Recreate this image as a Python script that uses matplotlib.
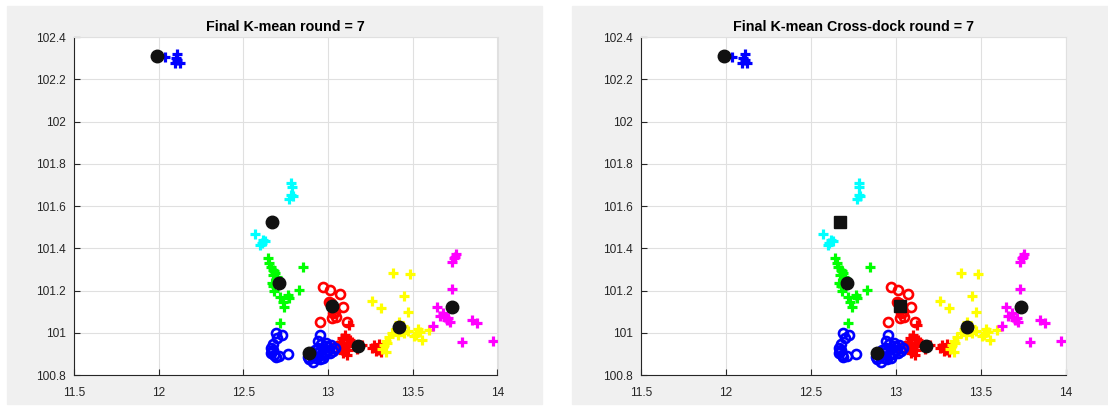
import matplotlib.pyplot as plt
from matplotlib.patches import Rectangle
from matplotlib.ticker import FuncFormatter

plt.rcParams['font.family'] = ['Liberation Sans', 'DejaVu Sans']

# points of every cluster (x, y) and how they are drawn
top_x = [12.00, 12.037, 12.11, 12.11, 12.126, 12.096, 12.10]
top_y = [102.31, 102.306, 102.32, 102.29, 102.277, 102.277, 102.30]

cyan_x = [12.781, 12.785, 12.781, 12.771, 12.791, 12.568, 12.618, 12.598, 12.628, 12.608]
cyan_y = [101.711, 101.692, 101.653, 101.633, 101.648, 101.468, 101.44, 101.416, 101.432, 101.424]

green_x = [12.643, 12.653, 12.677, 12.687, 12.673, 12.696, 12.667, 12.677, 12.85, 12.828,
           12.716, 12.765, 12.732, 12.740, 12.771, 12.716, 12.68, 12.66, 12.69, 12.70, 12.68]
green_y = [101.353, 101.332, 101.298, 101.282, 101.274, 101.266, 101.235, 101.222, 101.31, 101.203,
           101.171, 101.179, 101.147, 101.124, 101.163, 101.045, 101.29, 101.31, 101.25, 101.26, 101.20]

redo_x = [12.972, 13.011, 13.07, 13.007, 13.09, 13.031, 13.021, 13.047, 12.952, 13.113, 13.02, 13.04, 13.03]
redo_y = [101.216, 101.203, 101.184, 101.147, 101.124, 101.092, 101.069, 101.076, 101.049, 101.053,
          101.14, 101.10, 100.93]

redp_x = [13.125, 13.10, 13.08, 13.11, 13.13, 13.07, 13.09, 13.12, 13.14, 13.10, 13.08, 13.12, 13.15,
          13.09, 13.11, 13.06, 13.17, 13.20, 13.27, 13.29, 13.28, 13.30, 13.31, 13.26, 13.30]
redp_y = [101.037, 100.99, 100.975, 100.97, 100.965, 100.955, 100.95, 100.945, 100.955, 100.93, 100.92,
          100.92, 100.935, 100.905, 100.895, 100.94, 100.925, 100.94, 100.94, 100.93, 100.915, 100.92,
          100.91, 100.93, 100.945]

yel_x = [13.385, 13.483, 13.257, 13.31, 13.448, 13.473, 13.419, 13.40, 13.43, 13.44, 13.38, 13.36, 13.34,
         13.33, 13.32, 13.35, 13.41, 13.45, 13.543, 13.507, 13.553, 13.597, 13.53, 13.34, 13.47, 13.52]
yel_y = [101.285, 101.279, 101.152, 101.116, 101.174, 101.10, 101.05, 101.02, 101.01, 101.03, 101.0, 100.98,
         100.96, 100.94, 100.925, 100.95, 100.99, 101.0, 101.005, 100.985, 100.966, 101.013, 101.02, 100.91,
         101.01, 100.99]

mag_x = [13.755, 13.743, 13.73, 13.73, 13.645, 13.68, 13.69, 13.70, 13.72, 13.66, 13.71, 13.621, 13.789,
         13.848, 13.877, 13.971, 13.75]
mag_y = [101.373, 101.353, 101.334, 101.206, 101.121, 101.092, 101.075, 101.061, 101.053, 101.08, 101.07,
         101.032, 100.958, 101.06, 101.045, 100.963, 101.36]

blue_x = [12.69, 12.725, 12.70, 12.675, 12.665, 12.67, 12.665, 12.68, 12.69, 12.71, 12.765, 12.675,
          12.952, 12.94, 12.96, 12.99, 13.04, 13.02, 13.0, 12.97, 12.95, 12.932, 12.9, 12.883, 12.95,
          12.913, 12.93, 12.98, 13.01, 12.96, 12.94, 12.92, 13.03, 12.99, 12.89, 12.97]
blue_y = [101.0, 100.99, 100.975, 100.945, 100.93, 100.915, 100.905, 100.895, 100.885, 100.89, 100.898,
          100.92, 100.99, 100.96, 100.945, 100.935, 100.926, 100.94, 100.92, 100.925, 100.915, 100.903,
          100.895, 100.887, 100.874, 100.863, 100.88, 100.9, 100.905, 100.895, 100.93, 100.92, 100.915,
          100.95, 100.875, 100.88]

clusters = [
    (top_x, top_y, 'b', '+'),
    (cyan_x, cyan_y, 'c', '+'),
    (green_x, green_y, 'g', '+'),
    (redo_x, redo_y, 'r', 'o'),
    (redp_x, redp_y, 'r', '+'),
    (yel_x, yel_y, 'y', '+'),
    (mag_x, mag_y, 'm', '+'),
    (blue_x, blue_y, 'b', 'o'),
]
colors = {'b': '#0000ff', 'c': '#00ffff', 'g': '#00ff00', 'r': '#ff0000',
          'y': '#ffff00', 'm': '#ff00ff'}

# centroids after the last round
cen_x = [11.988, 12.671, 12.712, 13.021, 13.178, 13.419, 13.733, 12.889]
cen_y = [102.312, 101.525, 101.237, 101.127, 100.937, 101.027, 101.124, 100.906]
# cross-dock centroids drawn as squares in the second panel
cross_dock = [1, 3]

titles = ['Final K-mean round = 7', 'Final K-mean Cross-dock round = 7']
xticks = [11.5, 12, 12.5, 13, 13.5, 14]
yticks = [100.8, 101, 101.2, 101.4, 101.6, 101.8, 102, 102.2, 102.4]

fig = plt.figure(figsize=(11.08, 4.12), dpi=100)
fig.patch.set_facecolor('white')
for x0, w in [(7, 535), (572, 536)]:
    fig.patches.append(Rectangle((x0 / 1108, 8 / 412), w / 1108, 398 / 412,
                                 transform=fig.transFigure, color='#f0f0f0', zorder=-5))

axes = [fig.add_axes([74 / 1108, 37 / 412, 423.5 / 1108, 338 / 412]),
        fig.add_axes([641 / 1108, 37 / 412, 425 / 1108, 338 / 412])]

for k, ax in enumerate(axes):
    for xs, ys, c, m in clusters:
        if m == '+':
            ax.plot(xs, ys, linestyle='none', marker='+', color=colors[c], ms=6.5, mew=2.3)
        else:
            ax.plot(xs, ys, linestyle='none', marker='o', mfc='none', mec=colors[c], ms=6.5, mew=1.9)
    for i, (cx, cy) in enumerate(zip(cen_x, cen_y)):
        mk = 's' if (k == 1 and i in cross_dock) else 'o'
        ax.plot(cx, cy, linestyle='none', marker=mk, color='#111111', ms=9 if mk == 'o' else 8.5)

    ax.set_xlim(11.5, 14)
    ax.set_ylim(100.8, 102.4)
    ax.set_xticks(xticks)
    ax.set_yticks(yticks)
    ax.xaxis.set_major_formatter(FuncFormatter(lambda v, p: f'{v:g}'))
    ax.yaxis.set_major_formatter(FuncFormatter(lambda v, p: f'{v:g}'))
    ax.tick_params(direction='in', length=4, width=0.8, labelsize=8.6, colors='#262626')
    ax.tick_params(axis='x', pad=9)
    ax.tick_params(axis='y', pad=6)
    ax.grid(True, color='#e0e0e0', linewidth=0.8)
    ax.set_axisbelow(True)
    for s in ['left', 'bottom']:
        ax.spines[s].set_color('#262626')
        ax.spines[s].set_linewidth(0.8)
    for s in ['top', 'right']:
        ax.spines[s].set_color('#e0e0e0')
        ax.spines[s].set_linewidth(0.8)
    ax.set_title(titles[k], fontsize=10.3, fontweight='bold', color='black', pad=4)

fig.savefig('out.png', dpi=100)
